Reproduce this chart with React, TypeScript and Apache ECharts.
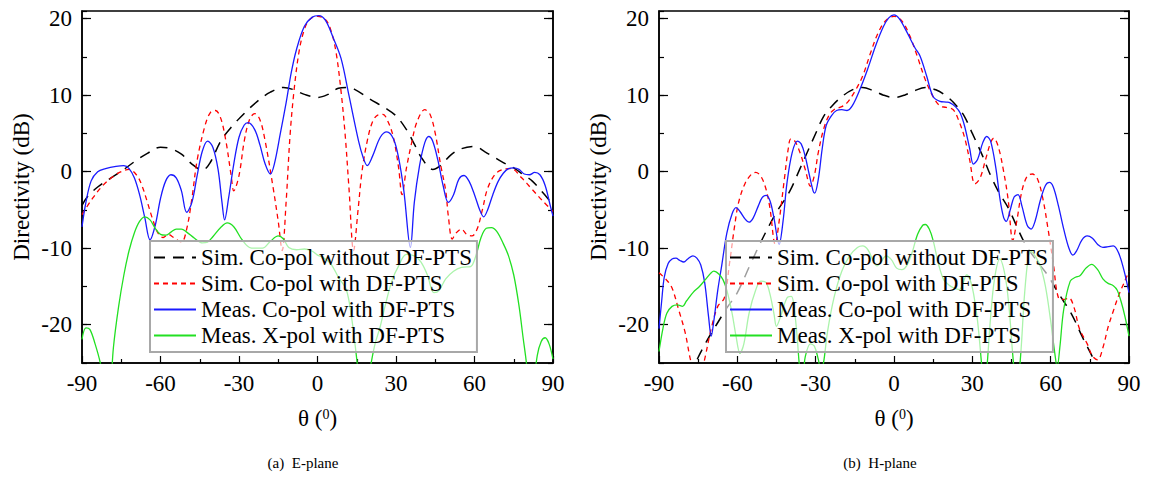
import { useEffect, useRef } from 'react';
import * as echarts from 'echarts';

type P = [number, number][];

const seriesNames = [
  'Sim. Co-pol without DF-PTS',
  'Sim. Co-pol with DF-PTS',
  'Meas. Co-pol with DF-PTS',
  'Meas. X-pol with DF-PTS',
];
const captions = ['(a)  E-plane', '(b)  H-plane'];
const yLabelValues = [-20, -10, 0, 10, 20];

// ---------- E-plane ----------
const eSimNoDf: P = [
  [-90, -4.4], [-88, -3.3], [-84, -2.0], [-78, -0.6], [-74, 0.3], [-70, 1.3], [-65, 2.4], [-60, 3.2],
  [-56, 3.0], [-52, 2.3], [-48, 1.0], [-44, 0.2], [-41, 1.2], [-37, 4.0], [-33, 5.8], [-28, 7.6],
  [-23, 9.2], [-18, 10.4], [-13, 11.0], [-9, 10.7], [-5, 10.1], [0, 9.7], [4, 10.1], [8, 10.9],
  [11, 11.0], [14, 10.8], [20, 9.5], [26, 8.3], [30, 7.3], [34, 5.5], [37, 3.6], [40, 1.7],
  [44, 0.3], [47, 0.8], [51, 2.2], [55, 3.0], [60, 3.3], [64, 2.6], [68, 1.8], [72, 1.0],
  [75, 0.5], [79, -0.5], [82, -1.2], [86, -2.7], [90, -4.3],
];
const eSimDf: P = [
  [-90, -5.6], [-86, -3.5], [-82, -1.8], [-78, -0.6], [-75, 0.0], [-72, 0.3], [-69, -0.5], [-67, -1.9],
  [-65, -4.0], [-63, -6.2], [-61, -8.0], [-59, -8.6], [-57, -8.2], [-55, -8.6], [-52, -9.2], [-50, -7.5],
  [-48, -3.5], [-46, 1.5], [-43, 6.0], [-41, 7.7], [-39, 8.0], [-37, 7.0], [-35, 4.0], [-33, -0.5],
  [-32, -2.5], [-30, -0.5], [-28, 4.0], [-26, 6.8], [-24, 7.6], [-22, 6.8], [-20, 4.0], [-17, -2.0],
  [-15, -6.5], [-13.5, -10.3], [-12, -4], [-10.5, 4.7], [-9, 10.5], [-7, 15.8], [-5, 18.6], [-3, 19.9],
  [0, 20.3], [3, 19.9], [5, 18.6], [7, 15.8], [9, 10.5], [10.6, 4.7], [12, -2], [13.8, -10.3],
  [15.5, -5], [17, 0], [19, 4.0], [21, 6.5], [23, 7.4], [25, 7.5], [27, 6.5], [29, 4.5],
  [31, 0.5], [32.3, -3.0], [34, 0.5], [36, 3.8], [38, 6.5], [41, 8.1], [43, 7.5], [45, 5.0],
  [47, 1.0], [49, -2.5], [50, -5.8], [51.5, -8.8], [53, -8.0], [55, -7.5], [57, -8.2], [59, -8.4],
  [61, -7.5], [63, -5.0], [65, -2.2], [68, -0.3], [71, 0.3], [74, 0.4], [78, -0.8], [82, -2.3],
  [86, -3.8], [90, -5.2],
];
const eMeasCo: P = [
  [-90, -7.2], [-88.5, -4], [-86.5, -1.2], [-84, 0.0], [-81, 0.4], [-77, 0.7], [-74, 0.8], [-72, 0.4],
  [-70, -0.8], [-68, -3.0], [-66, -6.0], [-64, -8.9], [-62, -7.0], [-60, -3.5], [-58, -1.2], [-56, -0.4],
  [-54, -0.8], [-52, -2.5], [-50, -5.3], [-48, -4.0], [-46, -0.5], [-44, 2.7], [-42, 4.0], [-40, 3.2],
  [-38, 0.3], [-36.5, -4.0], [-35.5, -6.3], [-34, -3.5], [-32, 1.0], [-30, 4.5], [-28, 6.1], [-26.5, 6.4],
  [-24, 5.5], [-22, 3.5], [-20, 1.0], [-18, -0.3], [-16.5, 1.0], [-14.2, 5.0], [-12, 9.0], [-10, 13],
  [-8, 16.0], [-5, 19.0], [-2, 20.2], [0.5, 20.4], [3, 19.8], [6, 17.5], [9, 14.8], [12, 10.0],
  [15.7, 4.0], [17.5, 1.8], [19, 0.8], [21, 2.0], [24, 4.5], [26.5, 5.2], [29, 4.3], [31, 1.8],
  [33, -2.5], [35.5, -9.9], [37, -4], [39, 0.8], [41, 3.8], [42.5, 4.6], [44, 4.0], [46, 1.5],
  [48, -1.8], [50, -4.0], [52, -3.0], [54, -1.0], [56, -0.5], [58, -1.3], [60, -3.0], [62, -5.0],
  [63.5, -5.9], [65, -5.0], [67, -3.0], [69, -1.3], [71, -0.2], [73, 0.4], [75, 0.5], [77, 0.3],
  [79, -0.3], [81, -0.4], [83, -0.1], [85, -0.4], [87, -1.8], [89, -4.5], [90, -5.8],
];
const eMeasX: P = [
  [-90, -21.9], [-88.5, -20.4], [-87, -20.6], [-85, -22.5], [-83, -25], [-81.5, -28], [-80, -30], [-79, -28],
  [-78, -23], [-76, -17.6], [-74, -13.5], [-72, -10.3], [-70, -8.0], [-68, -6.5], [-66, -5.9], [-64, -6.3],
  [-62, -7.4], [-60, -8.2], [-58, -8.3], [-56, -7.9], [-54, -7.5], [-52, -7.5], [-50, -7.9], [-47, -8.7],
  [-44, -9.3], [-42, -9.2], [-40, -8.5], [-37, -7.3], [-34.5, -6.7], [-32, -7.2], [-29, -8.8], [-26, -9.9],
  [-24, -10.0], [-21, -10.0], [-18, -9.1], [-15, -8.4], [-13, -8.8], [-11, -9.9], [-8, -10.2], [-5, -10.1],
  [-2, -10.4], [0, -10.9], [2, -11.2], [5, -12], [8, -13.8], [11, -15.4], [13, -19], [14.5, -23],
  [15.5, -26], [17, -30], [19, -28], [20.5, -25], [22, -22.5], [24, -20.2], [26, -17.3], [28.5, -14.2],
  [31, -12.3], [34, -10.8], [37, -11.0], [39.5, -11.8], [42, -13.5], [44.5, -15.8], [46.5, -15.5], [49, -14],
  [52, -13], [55, -12.5], [58.5, -12.4], [60.5, -11.0], [62.5, -8.6], [64.5, -7.4], [66.5, -7.3], [68.5, -7.8],
  [71, -9.4], [73, -11.0], [75, -13.5], [77, -17.5], [78.5, -21.5], [80, -25.5], [81, -30], [82.5, -28],
  [84, -24], [85.5, -22.2], [87, -21.7], [88.5, -22.5], [90, -24.5],
];

// ---------- H-plane ----------
const hSimNoDf: P = [
  [-90, -33], [-80, -28.5], [-76, -25], [-72, -22.3], [-68, -20], [-64, -17.8], [-60, -15.8], [-55, -12.1],
  [-50, -8.5], [-45, -5.3], [-40, -2.6], [-36, 0.4], [-33, 2.7], [-30, 5.0], [-27, 7.2], [-24, 8.5],
  [-20, 9.8], [-16, 10.7], [-12, 11.0], [-8, 10.6], [-4, 10.0], [0, 9.7], [4, 10.0], [8, 10.6],
  [12, 11.0], [16, 10.7], [20, 9.9], [24, 8.6], [27, 7.2], [30, 5.0], [34, 2.0], [37, -0.5],
  [40, -2.6], [44, -4.9], [50, -9.3], [55, -11.8], [59, -13.6], [63, -15.9], [68, -18.6], [72, -21.5],
  [76, -24.2], [80, -27], [90, -33],
];
const hSimDf: P = [
  [-90, -13.2], [-87, -14.2], [-85, -15.2], [-82.5, -18.0], [-80, -21], [-78, -24.5], [-76, -27], [-74, -26.5],
  [-72.5, -24.5], [-70, -20.5], [-67.5, -17.6], [-65, -16.5], [-63, -12], [-61, -7], [-59.5, -4.0], [-57, -1.5],
  [-54.5, -0.3], [-53, -0.1], [-51, -0.6], [-49, -2.3], [-47.5, -4.8], [-45.5, -9.5], [-44, -6.5], [-42, -1.0],
  [-40.5, 3.0], [-39.5, 4.3], [-38, 4.0], [-36, 2.5], [-34, 0.3], [-32, -1.9], [-30.5, -0.5], [-29, 2.5],
  [-27, 5.5], [-25, 7.3], [-23, 8.1], [-20, 8.5], [-18, 9.0], [-15, 10.5], [-12, 12.5], [-9, 15.5],
  [-6, 18.2], [-3, 19.8], [0, 20.3], [3, 19.7], [6, 17.8], [9, 15.0], [12, 12.0], [15, 9.8],
  [17.6, 8.6], [20, 8.4], [22.7, 8.1], [25, 6.5], [27, 4.5], [29, 1.5], [31, -1.6], [33, -0.8],
  [35, 1.5], [37, 3.8], [38.2, 4.4], [40, 3.2], [42, 0.0], [43.7, -3.6], [45.5, -9.0], [47, -6.5],
  [49, -2.5], [51, -0.6], [53, -0.3], [55, -1.0], [57, -3.5], [59, -7.5], [61, -12], [63, -16.5],
  [65, -16.7], [67, -16.5], [69, -17.8], [71, -20.5], [74, -22.5], [76, -24.1], [78, -24.6], [80, -23],
  [82, -20.3], [84, -18.2], [86, -16.2], [88, -14.6], [90, -13.0],
];
const hMeasCo: P = [
  [-90, -20.5], [-89, -17], [-88, -13.8], [-86.5, -12], [-85, -11.4], [-83.5, -11.3], [-82, -11.6], [-80.5, -11.8],
  [-79, -11.4], [-77, -11.0], [-75.5, -11.3], [-74, -12.2], [-72.5, -14.5], [-71, -19], [-70, -21.5], [-69, -19.5],
  [-67.5, -15.5], [-66, -12.3], [-64, -8.0], [-62, -5.5], [-60.5, -4.7], [-59, -5.2], [-57, -6.2], [-55.5, -6.6],
  [-54, -6.1], [-52, -4.5], [-50.5, -3.4], [-49, -3.1], [-47.5, -3.8], [-46, -6.0], [-44, -9.5], [-42.5, -6.5],
  [-41, -1.5], [-39, 2.5], [-37, 4.0], [-35.5, 3.6], [-34, 2.0], [-32.5, -0.3], [-31, -2.5], [-30.4, -2.8],
  [-29, -1.0], [-27.5, 3.0], [-26, 6.0], [-24, 7.3], [-22, 8.0], [-20, 8.1], [-18, 8.0], [-16, 8.6],
  [-13, 10.8], [-10, 13.5], [-7, 16.5], [-4, 19.0], [-2, 20.1], [0, 20.5], [2, 20.0], [5, 18.2],
  [8, 16.2], [10, 15.1], [12.5, 12.5], [15, 9.8], [17.6, 9.2], [20, 9.1], [21.5, 9.0], [23.5, 8.5],
  [25.3, 7.7], [27, 6.0], [29, 3.0], [30.4, 1.0], [32, 1.6], [34, 3.8], [35.5, 4.6], [37, 4.0],
  [39, 0.5], [40.6, -3.6], [42, -6.0], [43, -6.5], [44.5, -5.0], [46, -3.3], [47.5, -3.0], [49, -4.5],
  [51, -7.0], [52.5, -7.5], [54, -6.5], [56, -3.8], [58, -1.8], [59.5, -1.4], [61, -2.0], [63, -4.5],
  [65, -7.5], [67, -10.0], [68.5, -10.9], [70, -10.3], [72, -8.9], [74, -8.4], [76, -8.7], [78, -9.5],
  [80, -9.9], [82, -9.8], [84, -9.7], [86, -10.6], [88, -12.8], [90, -15.8],
];
const hMeasX: P = [
  [-90, -23.5], [-88.5, -20.5], [-87, -18.5], [-85, -17.6], [-83, -17.4], [-81, -17.6], [-79.5, -16.9], [-77, -15.8],
  [-74.5, -15.0], [-72, -14.0], [-70, -13.2], [-69, -13.0], [-67, -13.4], [-65.5, -14.1], [-64, -15.5], [-62, -18.5],
  [-60.5, -21.5], [-59, -23.7], [-57.5, -22.5], [-55.5, -18.5], [-53, -15.5], [-51, -14.3], [-49, -14.5], [-47.5, -16.0],
  [-46, -18.5], [-45, -20.2], [-43.5, -19], [-41, -16.5], [-39.3, -16.3], [-38, -18.5], [-37, -22], [-36, -26],
  [-35, -27], [-34, -24.2], [-32, -22.5], [-30.5, -22.8], [-29, -24.5], [-28, -26], [-27, -25], [-25.5, -21],
  [-23, -16.5], [-20, -13.0], [-17, -11.0], [-14, -9.9], [-12, -9.7], [-10, -10.2], [-8, -11.6], [-6.5, -12.3],
  [-5, -11.8], [-3, -11.0], [-1, -11.5], [1, -12.6], [3, -12.8], [5, -12.2], [7, -10.5], [9, -8.2],
  [11, -7.0], [12, -6.9], [13.5, -7.5], [15, -9.0], [17, -12.0], [19, -14.1], [21, -14.8], [23, -15.2],
  [25, -15.4], [26.5, -14.5], [27.8, -13.5], [29, -14.0], [30.5, -16.0], [32, -19.5], [33.5, -25], [34.5, -29],
  [35.5, -26], [37, -19], [38.5, -14], [40.5, -11.4], [42.5, -13.5], [44, -17.5], [45.5, -24], [47, -29],
  [48.5, -24], [50, -16], [51.5, -11.0], [52.5, -10.4], [54, -11.0], [56, -12.3], [58, -15], [60, -19.5],
  [61.5, -23.5], [62.5, -25.5], [63.5, -23], [65, -18], [67.5, -14.3], [69.5, -13.8], [71.2, -13.6], [73.5, -12.6],
  [75.7, -12.1], [78, -12.8], [80, -14.0], [82, -14.6], [84, -14.9], [85.5, -15.5], [87, -17], [88.5, -19],
  [90, -21.5],
];

const planes: P[][] = [
  [eSimNoDf, eSimDf, eMeasCo, eMeasX],
  [hSimNoDf, hSimDf, hMeasCo, hMeasX],
];

const FONT = "'Liberation Serif', 'Times New Roman', serif";
const FS = 23;
const lineStyles = [
  { color: '#000000', width: 1.5, type: [11, 8] },
  { color: '#ff0000', width: 1.3, type: [5, 4] },
  { color: '#1a1aff', width: 1.3, type: 'solid' },
  { color: '#22e022', width: 1.3, type: 'solid' },
];

const grids = [
  { left: 82, top: 11, width: 471, height: 352 },
  { left: 659, top: 11, width: 470, height: 352 },
];

export default function App() {
  const ref = useRef<HTMLDivElement>(null);
  useEffect(() => {
    if (!ref.current) return;
    const chart = echarts.init(ref.current, null, { renderer: 'svg' });

    const xAxis: any[] = [];
    const yAxis: any[] = [];
    const series: any[] = [];
    const legend: any[] = [];

    grids.forEach((g, gi) => {
      xAxis.push({
        type: 'value', gridIndex: gi, min: -90, max: 90, interval: 30,
        axisLine: { onZero: false, lineStyle: { color: '#000', width: 1.5 } },
        axisTick: { inside: true, length: 7, lineStyle: { color: '#000', width: 1.2 } },
        minorTick: { show: true, splitNumber: 2, length: 4, lineStyle: { color: '#000', width: 1.2 } },
        splitLine: { show: false },
        axisLabel: { fontSize: FS, fontFamily: FONT, color: '#000', margin: 9, formatter: (v: number) => String(v) },
        name: '{t|θ (}{s|0}{t|)}',
        nameLocation: 'middle',
        nameGap: 44,
        nameTextStyle: {
          rich: {
            t: { fontSize: FS, fontFamily: FONT, color: '#000' },
            s: { fontSize: 14, fontFamily: FONT, color: '#000', verticalAlign: 'top' },
          },
        },
      });
      const base = {
        type: 'value', gridIndex: gi, min: -25, max: 21, interval: 5,
        splitLine: { show: false },
      };
      yAxis.push({
        ...base, position: 'left',
        axisLine: { show: true, onZero: false, lineStyle: { color: '#000', width: 1.5 } },
        axisTick: { show: true, inside: true, length: 5, lineStyle: { color: '#000', width: 1.2 } },
        axisLabel: {
          fontSize: FS, fontFamily: FONT, color: '#000', margin: 10,
          formatter: (v: number) => (yLabelValues.includes(v) ? String(v) : ''),
        },
        name: 'Directivity (dB)',
        nameLocation: 'middle',
        nameGap: 49,
        nameRotate: 90,
        nameTextStyle: { fontSize: FS, fontFamily: FONT, color: '#000' },
      });
      yAxis.push({
        ...base, position: 'left',
        axisLine: { show: false, onZero: false },
        axisTick: { show: true, inside: true, length: 9, customValues: yLabelValues, lineStyle: { color: '#000', width: 1.2 } },
        axisLabel: { show: false },
      });
      yAxis.push({
        ...base, position: 'right',
        axisLine: { show: true, onZero: false, lineStyle: { color: '#000', width: 1.5 } },
        axisTick: { show: true, inside: true, length: 5, lineStyle: { color: '#000', width: 1.2 } },
        axisLabel: { show: false },
      });
      yAxis.push({
        ...base, position: 'right',
        axisLine: { show: false, onZero: false },
        axisTick: { show: true, inside: true, length: 9, customValues: yLabelValues, lineStyle: { color: '#000', width: 1.2 } },
        axisLabel: { show: false },
      });

      planes[gi].forEach((data, si) => {
        series.push({
          type: 'line', name: seriesNames[si], data,
          xAxisIndex: gi, yAxisIndex: gi * 4,
          symbol: 'none', smooth: 0.35, clip: true,
          lineStyle: lineStyles[si],
          itemStyle: { color: lineStyles[si].color },
          z: 2 + si,
        });
      });

      legend.push({
        left: gi === 0 ? 150 : 726, top: 241,
        orient: 'vertical',
        data: seriesNames,
        selectedMode: false,
        itemWidth: 42, itemHeight: 14, itemGap: 3,
        padding: [5, 5, 5, 3],
        itemStyle: { opacity: 0, color: 'transparent', borderWidth: 0 },
        backgroundColor: 'rgba(255,255,255,0.62)',
        borderColor: '#a8a8a8', borderWidth: 2,
        textStyle: { fontSize: FS, fontFamily: FONT, color: '#000' },
        z: 10,
      });
    });

    chart.setOption({
      animation: false,
      backgroundColor: '#fff',
      grid: grids.map((g) => ({ ...g, show: true, borderColor: '#000', borderWidth: 1.5, backgroundColor: 'transparent' })),
      xAxis, yAxis, series, legend,
      graphic: captions.map((c, i) => ({
        type: 'text',
        x: i === 0 ? 303 : 880,
        y: 463,
        style: { text: c, fontSize: 15, fontFamily: FONT, fill: '#000', textAlign: 'center', textVerticalAlign: 'middle' },
      })),
    });
    return () => chart.dispose();
  }, []);
  return <div ref={ref} style={{ position: 'fixed', left: 0, top: 0, width: 1157, height: 479 }} />;
}
